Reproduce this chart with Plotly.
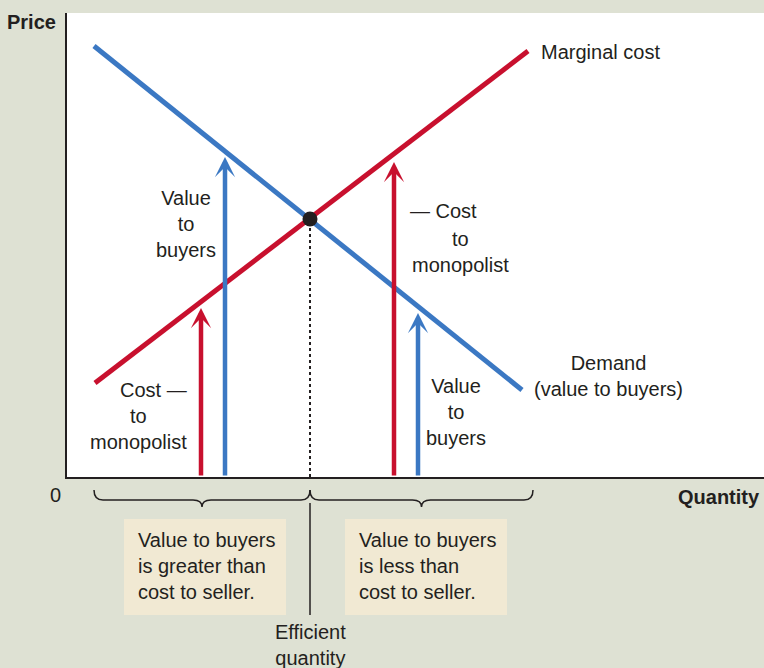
import plotly.graph_objects as go

# curves (quantity, price)
demand_q = [27, 455]
demand_p = [431, 87]
mc_q = [28, 461]
mc_p = [94, 426]
eff_q = 243
eff_p = 258

# vertical arrows: quantity, height of tip, colour
arrow_q = [134, 158, 327, 351]
arrow_top = [169, 320, 315, 164]
arrow_kind = ['cost', 'value', 'cost', 'value']

# braces under the axis
brace_ends = [27, 243, 466]

RED = '#c8102e'
BLUE = '#3b78c3'
INK = '#231f20'
BG = '#dee1d3'
BOX = '#f1e9d3'
FONT = 'Liberation Sans'

XMAX = 697
YMAX = 464

def px(x):
    return x / XMAX

def py(y):
    return y / YMAX

fig = go.Figure()
fig.add_trace(go.Scatter(x=demand_q, y=demand_p, mode='lines', line=dict(color=BLUE, width=5), hoverinfo='skip'))
fig.add_trace(go.Scatter(x=mc_q, y=mc_p, mode='lines', line=dict(color=RED, width=5), hoverinfo='skip'))

# dotted drop line from the intersection
fig.add_shape(type='line', x0=eff_q, x1=eff_q, y0=0, y1=eff_p, xref='x', yref='y',
              line=dict(color=INK, width=2, dash='dot'))
fig.add_trace(go.Scatter(x=[eff_q], y=[eff_p], mode='markers',
                         marker=dict(color=INK, size=15), hoverinfo='skip'))

for q, top, kind in zip(arrow_q, arrow_top, arrow_kind):
    fig.add_annotation(x=q, y=top, ax=q, ay=0, xref='x', yref='y', axref='x', ayref='y',
                       text='', showarrow=True, arrowhead=3, arrowsize=0.75, arrowwidth=4.5,
                       arrowcolor=RED if kind == 'cost' else BLUE, standoff=0)

# braces
top, mid, bot, r = -13, -23, -30, 9
for a, b in zip(brace_ends[:-1], brace_ends[1:]):
    m = (a + b) / 2
    path = (f'M{px(a)},{py(top)} Q{px(a)},{py(mid)} {px(a + r)},{py(mid)} '
            f'L{px(m - r)},{py(mid)} Q{px(m)},{py(mid)} {px(m)},{py(bot)} '
            f'Q{px(m)},{py(mid)} {px(m + r)},{py(mid)} '
            f'L{px(b - r)},{py(mid)} Q{px(b)},{py(mid)} {px(b)},{py(top)}')
    fig.add_shape(type='path', path=path, xref='paper', yref='paper',
                  line=dict(color=INK, width=1.5))

# efficient quantity tick
fig.add_shape(type='line', x0=px(eff_q), x1=px(eff_q), y0=py(-26), y1=py(-138),
              xref='paper', yref='paper', line=dict(color=INK, width=1.5))

# boxes
for x0, x1, txt in [(57, 219, 'Value to buyers<br>is greater than<br>cost to seller.'),
                    (278, 440, 'Value to buyers<br>is less than<br>cost to seller.')]:
    fig.add_shape(type='rect', x0=px(x0), x1=px(x1), y0=py(-42), y1=py(-138),
                  xref='paper', yref='paper', fillcolor=BOX, line=dict(width=0), layer='below')
    fig.add_annotation(x=px(x0 + 12), y=py(-89), xref='paper', yref='paper', text=txt,
                       showarrow=False, xanchor='left', yanchor='middle', align='left')

labels = [
    ('<b>Price</b>', -9, 455, 'right'),
    ('0', -12, -18, 'center'),
    ('<b>Quantity</b>', 695, -20, 'right'),
    ('Marginal cost', 472, 425, 'left'),
    ('Demand<br>(value to buyers)', 541, 101, 'center'),
    ('Value<br>to<br>buyers', 119, 253, 'center'),
    ('Cost —', 86, 87, 'center'),
    ('to<br>monopolist', 71, 48, 'center'),
    ('— Cost', 376, 266, 'center'),
    ('to<br>monopolist', 393, 225, 'center'),
    ('Value<br>to<br>buyers', 389, 65, 'center'),
    ('Efficient<br>quantity', eff_q, -168, 'center'),
]
for txt, x, y, anchor in labels:
    fig.add_annotation(x=px(x), y=py(y), xref='paper', yref='paper', text=txt, showarrow=False,
                       xanchor=anchor, yanchor='middle', align='center')

fig.update_xaxes(range=[0, XMAX], showline=True, linecolor=INK, linewidth=2,
                 showgrid=False, zeroline=False, showticklabels=False, ticks='')
fig.update_yaxes(range=[0, YMAX], showline=True, linecolor=INK, linewidth=2,
                 showgrid=False, zeroline=False, showticklabels=False, ticks='')
fig.update_layout(width=764, height=668, margin=dict(l=67, r=0, t=13, b=191),
                  paper_bgcolor=BG, plot_bgcolor='white', showlegend=False,
                  font=dict(family=FONT, size=20, color=INK))

fig.write_html('out.html', config={'displayModeBar': False},
               post_script="document.body.style.margin='0';")
